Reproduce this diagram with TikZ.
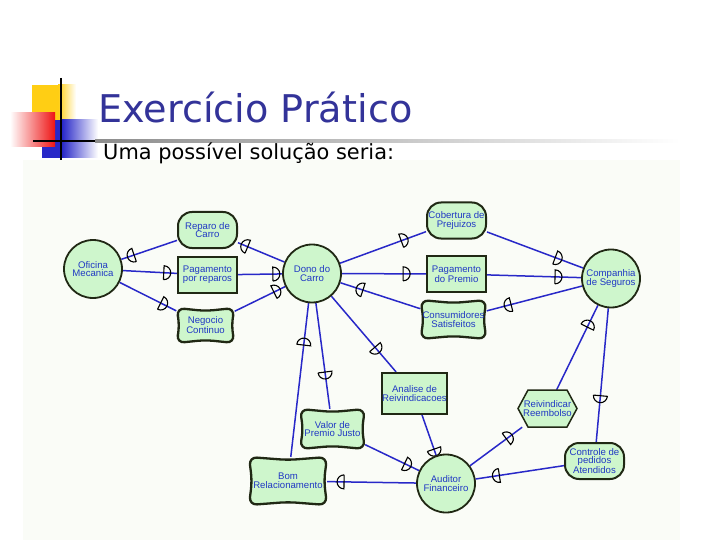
\documentclass[tikz,border=0pt]{standalone}
\usepackage{fontspec}
\setmainfont{Liberation Sans}
\newfontfamily\titlefont{DejaVu Sans}
\usetikzlibrary{decorations.markings}
\pgfdeclarelayer{bg}
\pgfdeclarelayer{edges}
\pgfsetlayers{bg,edges,main}

\definecolor{ngreen}{RGB}{206,246,204}
\definecolor{nborder}{RGB}{32,40,20}
\definecolor{ntext}{RGB}{32,56,196}
\definecolor{eblue}{RGB}{40,40,200}
\definecolor{ttl}{RGB}{51,51,153}
\definecolor{slidebg}{RGB}{250,252,247}
\definecolor{logoyellow}{RGB}{255,206,20}
\definecolor{logoblue}{RGB}{40,40,200}
\definecolor{logored}{RGB}{238,20,20}

\tikzset{
  lbl/.style={font=\fontsize{9.6}{8.7}\selectfont, text=ntext, align=center, inner sep=0pt},
  circ/.style={lbl, circle, draw=nborder, line width=1.8pt, fill=ngreen, minimum size=58pt},
  rectn/.style={lbl, rectangle, draw=nborder, line width=2pt, fill=ngreen, minimum width=59pt, minimum height=36pt},
  stad/.style={rectn, rounded corners=14pt},
  boxn/.style 2 args={lbl, rectangle, minimum width=#1, minimum height=#2},
  pillowline/.style={draw=nborder, line width=2.3pt, fill=ngreen, rounded corners=8pt},
  hexline/.style={draw=nborder, line width=1.5pt, fill=ngreen},
  conn/.style={draw=eblue, line width=1.5pt},
  mk/.style={draw=black, line width=1.1pt},
  fm/.style={postaction={decorate, decoration={markings, mark=at position #1 with {\draw[mk] (-3.5pt,-7pt) -- (-3.5pt,7pt) arc[start angle=90, end angle=-90, radius=7pt];}}}},
  bm/.style={postaction={decorate, decoration={markings, mark=at position #1 with {\draw[mk] (3.5pt,-7pt) -- (3.5pt,7pt) arc[start angle=90, end angle=270, radius=7pt];}}}},
}

\newcommand{\pillowdraw}[4]{%
  \begin{scope}[shift={(#1,#2)}]
    \draw[pillowline] ({#3/2},{-#4+1.5}) -- ({#3},{-#4}) -- ({#3-3},0) -- ({#3},{#4}) -- (0,{#4-3}) -- ({-#3},{#4}) -- ({-#3+3},0) -- ({-#3},{-#4}) -- (0,{-#4+3}) -- cycle;
  \end{scope}}

\begin{document}
\begin{tikzpicture}[x=1pt,y=-1pt]
\useasboundingbox (0,0) rectangle (720,540);

% slide background panel
\begin{pgfonlayer}{bg}
  \fill[white] (0,0) rectangle (720,540);
  \fill[slidebg] (23,160) rectangle (680,540);
\end{pgfonlayer}

% logo
\fill[logoyellow] (32,85) rectangle (58,120);
\shade[left color=logoyellow, right color=white] (58,85) rectangle (76,120);
\fill[logoblue] (42,120) rectangle (62,158);
\shade[left color=logoblue, right color=white] (62,120) rectangle (98,158);
\shade[left color=white, right color=logored] (10,113) rectangle (55,147);
\draw[line width=2.5pt] (61,78) -- (61,160);
\draw[line width=2.5pt] (33,141) -- (95,141);
\shade[left color=black!45, right color=white] (95,139.8) rectangle (680,142.2);

% title
\node[anchor=base west, inner sep=0pt, text=ttl, font=\titlefont\fontsize{38.2}{42}\selectfont] (title) at (98,123) {Exercício Prático};
\node[anchor=base west, inner sep=0pt, text=black, font=\titlefont\fontsize{20.9}{24}\selectfont] (subtitle) at (103,160) {Uma possível solução seria:};

% shapes drawn directly
\pillowdraw{205.5}{325.5}{29}{17.5}
\pillowdraw{453.5}{319.5}{33}{19.5}
\pillowdraw{332.5}{429}{32.5}{20}
\pillowdraw{288}{481}{39}{24}
\draw[hexline] (518,408.5) -- (528,390) -- (567,390) -- (577,408.5) -- (567,427) -- (528,427) -- cycle;

% nodes
\node[circ] (ofic) at (93,269) {Oficina\\Mecanica};
\node[stad] (reparo) at (207.5,230) {Reparo de\\Carro};
\node[rectn] (pagrep) at (207.5,275) {Pagamento\\por reparos};
\node[boxn={58pt}{35pt}] (negocio) at (205.5,325.5) {Negocio\\Continuo};
\node[circ] (dono) at (312,273.5) {Dono do\\Carro};
\node[stad] (cobert) at (456.5,220.5) {Cobertura de\\Prejuizos};
\node[rectn] (pagprem) at (456.5,274) {Pagamento\\do Premio};
\node[boxn={66pt}{39pt}] (consum) at (453.5,319.5) {Consumidores\\Satisfeitos};
\node[circ] (comp) at (611,278.5) {Companhia\\de Seguros};
\node[rectn, minimum width=65pt, minimum height=41pt] (analise) at (414.5,393.5) {Analise de\\Reivindicacoes};
\node[boxn={59pt}{37pt}] (reiv) at (547.5,408.5) {Reivindicar\\Reembolso};
\node[boxn={65pt}{40pt}] (valor) at (332.5,429) {Valor de\\Premio Justo};
\node[boxn={78pt}{48pt}] (bom) at (288,481) {Bom\\Relacionamento};
\node[circ] (aud) at (446,483.5) {Auditor\\Financeiro};
\node[stad] (controle) at (594.5,461) {Controle de\\pedidos\\Atendidos};

% connectors
\begin{pgfonlayer}{edges}
  \draw[conn, bm=0.17] (ofic) -- (reparo);
  \draw[conn, fm=0.82] (ofic) -- (pagrep);
  \draw[conn, fm=0.78] (ofic) -- (negocio);
  \draw[conn, bm=0.14] (reparo) -- (dono);
  \draw[conn, fm=0.87] (pagrep) -- (dono);
  \draw[conn, fm=0.84] (negocio) -- (dono);
  \draw[conn, fm=0.75] (dono) -- (cobert);
  \draw[conn, fm=0.77] (dono) -- (pagprem);
  \draw[conn, bm=0.24] (dono) -- (consum);
  \draw[conn, fm=0.745] (cobert) -- (comp);
  \draw[conn, fm=0.76] (pagprem) -- (comp);
  \draw[conn, bm=0.22] (consum) -- (comp);
  \draw[conn, bm=0.22] (comp) -- (reiv);
  \draw[conn, fm=0.68] (comp) -- (controle);
  \draw[conn, fm=0.71] (dono) -- (analise);
  \draw[conn, fm=0.685] (dono) -- (valor);
  \draw[conn, bm=0.25] (dono) -- (bom);
  \draw[conn, fm=0.93] (analise) -- (aud);
  \draw[conn, fm=0.79] (valor) -- (aud);
  \draw[conn, fm=0.85] (aud) -- (bom);
  \draw[conn, bm=0.25] (reiv) -- (aud);
  \draw[conn, fm=0.77] (controle) -- (aud);
\end{pgfonlayer}
\end{tikzpicture}
\end{document}
